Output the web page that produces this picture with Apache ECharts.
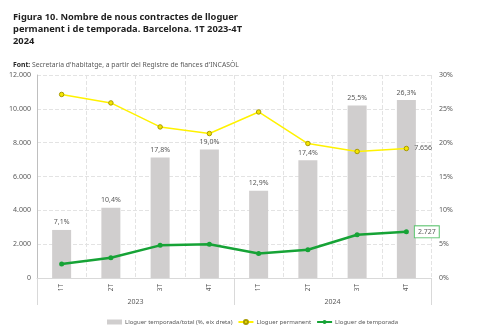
<!DOCTYPE html>
<html>
<head>
<meta charset="utf-8">
<script src="https://cdn.jsdelivr.net/npm/echarts@6/dist/echarts.min.js"></script>
<style>
html,body{margin:0;padding:0;background:#fff;}
#c{width:482px;height:334px;}
</style>
</head>
<body>
<div id="c"></div>
<script>
var categories = ['1T','2T','3T','4T','1T','2T','3T','4T'];
var years = ['2023','2024'];
var sharePct = [7.1, 10.4, 17.8, 19.0, 12.9, 17.4, 25.5, 26.3];
var permanent = [10850, 10350, 8930, 8540, 9815, 7950, 7478, 7656];
var temporada = [826, 1200, 1930, 2000, 1450, 1670, 2560, 2727];
var leftTicks = [0, 2000, 4000, 6000, 8000, 10000, 12000];
var rightTicks = [0, 5, 10, 15, 20, 25, 30];

var FONT = '"Noto Sans", "Open Sans", sans-serif';
var GREY = '#595959';

function fmtThousands(v){
  return String(Math.round(v)).replace(/\B(?=(\d{3})+(?!\d))/g, '.');
}
function fmtPct(v){
  return v.toFixed(1).replace('.', ',') + '%';
}

var chart = echarts.init(document.getElementById('c'), null, {renderer:'canvas'});
var last = categories.length - 1;

var option = {
  animation:false,
  backgroundColor:'#fff',
  textStyle:{fontFamily:FONT},
  title:[{
    text:'Figura 10. Nombre de nous contractes de lloguer\npermanent i de temporada. Barcelona. 1T 2023-4T\n2024',
    left:8, top:6,
    textStyle:{fontFamily:FONT, fontSize:9.3, fontWeight:'bold', color:'#1f1f1f', lineHeight:12}
  },{
    text:'{b|Font:} {n|Secretaria d\'habitatge, a partir del Registre de fiances d\'INCASÒL}',
    left:8, top:57,
    textStyle:{fontFamily:FONT, fontSize:6.8, fontWeight:'normal', color:GREY,
      rich:{
        b:{fontFamily:FONT, fontSize:6.8, fontWeight:'bold', color:'#262626'},
        n:{fontFamily:FONT, fontSize:6.8, fontWeight:'normal', color:GREY}
      }}
  }],
  legend:{
    left:102, top:314,
    itemWidth:15, itemHeight:5, itemGap:5,
    textStyle:{fontFamily:FONT, fontSize:6, color:GREY, padding:[0,0,0,-2]},
    data:[
      {name:'Lloguer temporada/total (%, eix dreta)', icon:'rect'},
      {name:'Lloguer permanent'},
      {name:'Lloguer de temporada'}
    ]
  },
  grid:{left:37, right:51, top:75, bottom:56, containLabel:false},
  xAxis:[{
    type:'category', data:categories, boundaryGap:true,
    axisLine:{show:true, lineStyle:{color:'#d9d9d9', width:1}},
    axisTick:{show:false},
    axisLabel:{rotate:90, fontSize:6.5, color:GREY, margin:6, fontFamily:FONT},
    splitLine:{show:true, interval:0, lineStyle:{color:'#e3e3e3', type:'dashed', width:1}}
  },{
    type:'category', data:years, position:'bottom', boundaryGap:true,
    axisLine:{show:false},
    axisTick:{show:true, interval:0, length:27, lineStyle:{color:'#d9d9d9'}},
    axisLabel:{fontSize:7, color:GREY, margin:20, fontFamily:FONT},
    splitLine:{show:false}
  }],
  yAxis:[{
    type:'value', min:0, max:12000, interval:2000,
    axisLine:{show:true, lineStyle:{color:'#bfbfbf'}},
    axisTick:{show:false},
    axisLabel:{fontSize:7, color:GREY, margin:6, fontFamily:FONT,
      formatter:function(v){return fmtThousands(v);}},
    splitLine:{show:true, lineStyle:{color:'#e3e3e3', type:'dashed'}}
  },{
    type:'value', min:0, max:30, interval:5,
    axisLine:{show:false}, axisTick:{show:false},
    axisLabel:{fontSize:7, color:GREY, margin:8, fontFamily:FONT,
      formatter:function(v){return v + '%';}},
    splitLine:{show:false}
  }],
  series:[{
    name:'Lloguer temporada/total (%, eix dreta)',
    type:'bar', xAxisIndex:0, yAxisIndex:1,
    data:sharePct, barWidth:19,
    itemStyle:{color:'#d0cece'},
    label:{show:true, position:'top', distance:4, fontSize:7, color:GREY, fontFamily:FONT,
      formatter:function(p){return fmtPct(p.value);}}
  },{
    name:'Lloguer permanent',
    type:'line', xAxisIndex:0, yAxisIndex:0,
    data:permanent.map(function(v,i){
      return i===last ? {value:v, label:{show:true}} : v;
    }),
    symbol:'circle', symbolSize:4.5, showAllSymbol:true,
    lineStyle:{color:'#fff200', width:1.5},
    itemStyle:{color:'#f5e600', borderColor:'#a89a00', borderWidth:1},
    label:{show:false, position:'right', distance:5, fontSize:7, color:GREY, fontFamily:FONT,
      formatter:function(p){return fmtThousands(p.value);}}
  },{
    name:'Lloguer de temporada',
    type:'line', xAxisIndex:0, yAxisIndex:0,
    data:temporada.map(function(v,i){
      return i===last ? {value:v, label:{show:true}} : v;
    }),
    symbol:'circle', symbolSize:5, showAllSymbol:true,
    lineStyle:{color:'#16a336', width:2.5},
    itemStyle:{color:'#16a336'},
    label:{show:false, position:'right', distance:6, fontSize:7, color:GREY, fontFamily:FONT,
      backgroundColor:'#fff', borderColor:'#5cc46f', borderWidth:1, padding:[2,3,2,3],
      formatter:function(p){return fmtThousands(p.value);}}
  }]
};
chart.setOption(option);
</script>
</body>
</html>
